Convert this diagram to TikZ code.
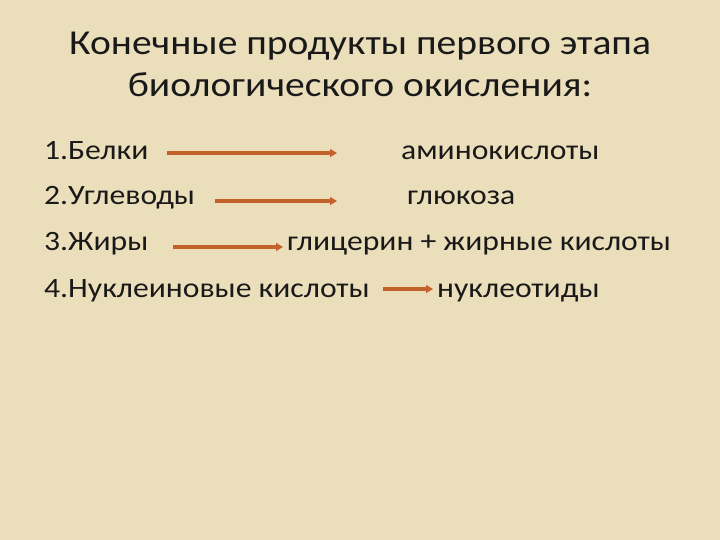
\documentclass[tikz,border=0pt]{standalone}
\usepackage{fontspec}
\setmainfont[FakeStretch=1.13]{Carlito}
\usetikzlibrary{arrows.meta}
\definecolor{parchment}{RGB}{235,222,187}
\definecolor{arrowbrown}{RGB}{196,98,44}

\begin{document}
\begin{tikzpicture}[x=1pt,y=-1pt]
	\tikzstyle{every node}=[inner sep=0pt,anchor=base west,text=black!90]
	\tikzstyle{title}=[font=\fontsize{35}{41}\selectfont,anchor=base]
	\tikzstyle{item}=[font=\fontsize{28}{34}\selectfont]
	\tikzstyle{conv}=[arrowbrown,line width=3.5pt,-{Triangle[length=7pt,width=8pt]}]
	
	\fill[parchment] (0,0) rectangle (720,540);
	
	\node[title] (head1) at (360,55) {Конечные продукты первого этапа};
	\node[title] (head2) at (360,97) {биологического окисления:};
	
	\node[item] (belki) at (44,160) {1.Белки};
	\node[item] (uglevody) at (44,205) {2.Углеводы};
	\node[item] (zhiry) at (44,251) {3.Жиры};
	\node[item] (nuklein) at (44,297) {4.Нуклеиновые кислоты};
	
	\node[item] (amino) at (401,160) {аминокислоты};
	\node[item] (glukoza) at (407,205) {глюкоза};
	\node[item] (glicerin) at (287,251) {глицерин + жирные кислоты};
	\node[item] (nukleotid) at (437,297) {нуклеотиды};
	
	\coordinate (b1) at (167,153);
	\coordinate (e1) at (337,153);
	\coordinate (b2) at (215,201);
	\coordinate (e2) at (337,201);
	\coordinate (b3) at (173,247);
	\coordinate (e3) at (283,247);
	\coordinate (b4) at (383,289);
	\coordinate (e4) at (433,289);
	\foreach \i in {1,2,3,4}
		\draw[conv] (b\i) -- (e\i);
\end{tikzpicture}
\end{document}
